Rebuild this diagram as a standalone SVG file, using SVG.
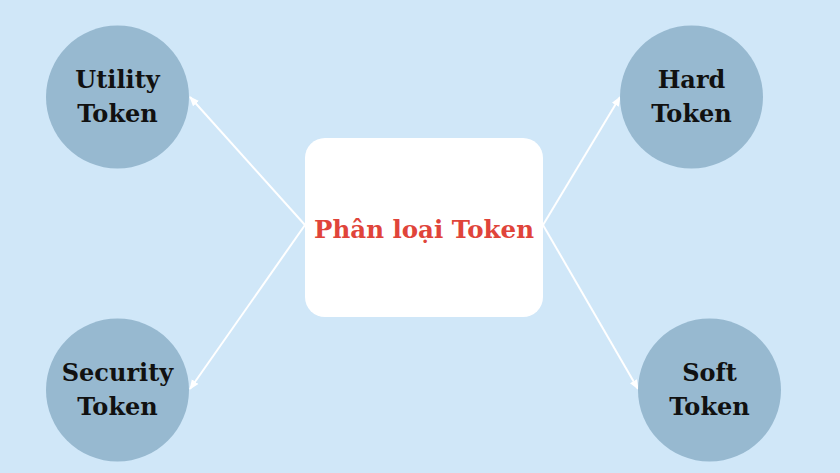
<svg xmlns="http://www.w3.org/2000/svg" width="840" height="473" viewBox="0 0 840 473">
  <style>
    .node circle { fill: #97b9d0; }
    .label { font-family: "DejaVu Serif", "Liberation Serif", serif; font-weight: bold; font-size: 24px; fill: #111111; text-anchor: middle; }
    .title { font-family: "DejaVu Serif", "Liberation Serif", serif; font-weight: bold; font-size: 24.5px; fill: #e0443a; text-anchor: middle; }
    .conn line { stroke: #ffffff; stroke-width: 2; marker-end: url(#arrow); }
  </style>
  <defs>
    <marker id="arrow" viewBox="0 0 10 10" refX="9" refY="5" markerWidth="5" markerHeight="5" orient="auto" markerUnits="strokeWidth">
      <path d="M0,1 L10,5 L0,9 z" fill="#ffffff"/>
    </marker>
  </defs>
  <rect x="0" y="0" width="840" height="473" fill="#d0e7f8"/>
  <g id="connectors" class="conn">
    <line x1="305" y1="225" x2="190" y2="97"/>
    <line x1="305" y1="225" x2="190" y2="389"/>
    <line x1="543" y1="225" x2="620" y2="97"/>
    <line x1="543" y1="225" x2="638" y2="389"/>
  </g>
  <g id="center">
    <rect x="305" y="138" width="238" height="179" rx="20" ry="20" fill="#ffffff"/>
    <text class="title" x="424" y="238">Phân loại Token</text>
  </g>
  <g id="utility" class="node">
    <circle cx="117.5" cy="97" r="71.5"/>
    <text class="label" x="117.5" y="88">Utility</text>
    <text class="label" x="117.5" y="122">Token</text>
  </g>
  <g id="hard" class="node">
    <circle cx="691.5" cy="97" r="71.5"/>
    <text class="label" x="691.5" y="88">Hard</text>
    <text class="label" x="691.5" y="122">Token</text>
  </g>
  <g id="security" class="node">
    <circle cx="117.5" cy="390" r="71.5"/>
    <text class="label" x="117.5" y="381">Security</text>
    <text class="label" x="117.5" y="415">Token</text>
  </g>
  <g id="soft" class="node">
    <circle cx="709.5" cy="390" r="71.5"/>
    <text class="label" x="709.5" y="381">Soft</text>
    <text class="label" x="709.5" y="415">Token</text>
  </g>
</svg>
